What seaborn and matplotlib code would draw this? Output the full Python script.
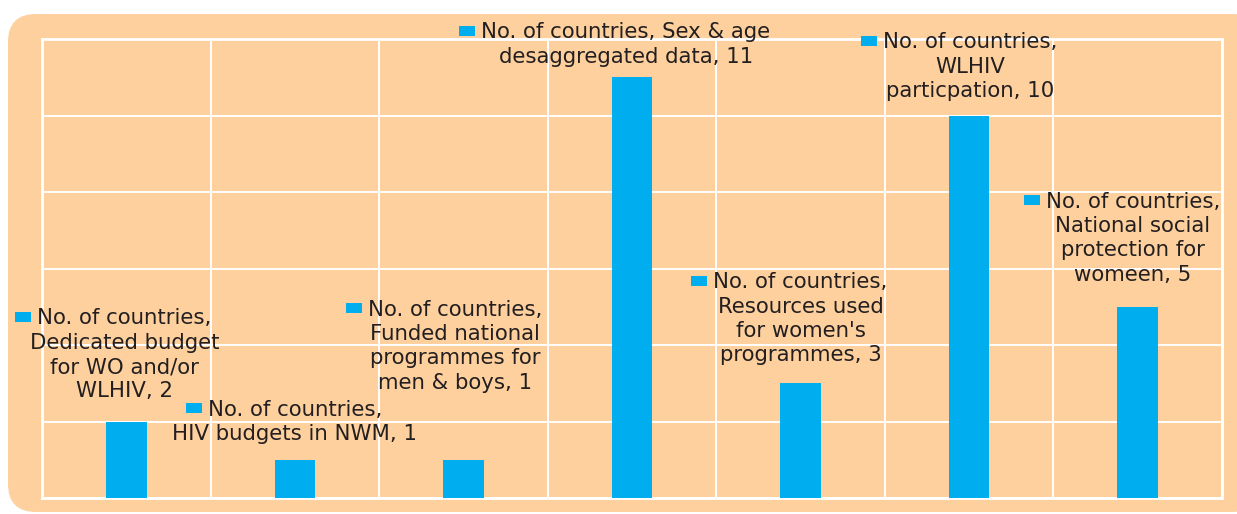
import matplotlib
matplotlib.use("Agg")
import matplotlib.pyplot as plt
from matplotlib.patches import FancyBboxPatch, Rectangle
from matplotlib.transforms import IdentityTransform
import seaborn as sns
import pandas as pd

categories = [
    "Dedicated budget for WO and/or WLHIV",
    "HIV budgets in NWM",
    "Funded national programmes for men & boys",
    "Sex & age desaggregated data",
    "Resources used for women's programmes",
    "WLHIV particpation",
    "National social protection for womeen",
]
values = [2, 1, 1, 11, 3, 10, 5]
labels = [
    "No. of countries,\nDedicated budget\nfor WO and/or\nWLHIV, 2",
    "No. of countries,\nHIV budgets in NWM, 1",
    "No. of countries,\nFunded national\nprogrammes for\nmen & boys, 1",
    "No. of countries, Sex & age\ndesaggregated data, 11",
    "No. of countries,\nResources used\nfor women's\nprogrammes, 3",
    "No. of countries,\nWLHIV\nparticpation, 10",
    "No. of countries,\nNational social\nprotection for\nwomeen, 5",
]
# label layout: offsets (pixels) of text block top above bar top, and horizontal shift
label_dy = [113, 60, 160, 55, 111, 83, 115]
label_dx = [-2, 0, -8, -6, 0, 1, -5]

BG = "#FDD09E"
BAR = "#00ADEE"
TXT = "#231F20"

sns.set_theme(style="white")
plt.rcParams["font.family"] = ["DejaVu Sans"]

fig = plt.figure(figsize=(12.37, 5.14), dpi=100)
fig.patch.set_facecolor("white")
bg = FancyBboxPatch((8 + 28, 2 + 28), 1260 - 8 - 56, 498 - 56,
                    boxstyle="round,pad=28,rounding_size=28",
                    transform=IdentityTransform(), facecolor=BG, edgecolor="none", zorder=-5)
fig.add_artist(bg)

ax = fig.add_axes([42 / 1237, 16 / 514, (1222 - 42) / 1237, (498 - 39) / 514])
ax.set_zorder(1)
ax.set_facecolor(BG)

df = pd.DataFrame({"cat": categories, "val": values})
sns.barplot(data=df, x="cat", y="val", color=BAR, saturation=1, width=0.24, ax=ax,
            zorder=3, edgecolor="none", linewidth=0)

ax.set_xlim(-0.5, len(values) - 0.5)
ax.set_ylim(0, 12)
ax.set_yticks(range(0, 13, 2))
ax.set_xticks([i - 0.5 for i in range(len(values) + 1)])
ax.set_xticklabels([])
ax.set_yticklabels([])
ax.tick_params(length=0)
ax.set_xlabel("")
ax.set_ylabel("")
ax.grid(True, color="white", lw=1.4, zorder=1)
ax.set_axisbelow(True)
for s in ax.spines.values():
    s.set_color("white")
    s.set_linewidth(2)
    s.set_visible(True)

fs = 15.3
ls = 1.27
for i, (lab, v) in enumerate(zip(labels, values)):
    ax.annotate(lab, xy=(i, v), xytext=(label_dx[i], label_dy[i]), textcoords="offset pixels",
                ha="center", va="top", multialignment="center", fontsize=fs, color=TXT,
                linespacing=ls, annotation_clip=False, zorder=5)

fig.canvas.draw()
r = fig.canvas.get_renderer()
for i, (lab, v) in enumerate(zip(labels, values)):
    first = lab.split("\n")[0]
    t = ax.annotate(first, xy=(i, v), xytext=(label_dx[i], label_dy[i]), textcoords="offset pixels",
                    ha="center", va="top", fontsize=fs, color=TXT, annotation_clip=False)
    bb = t.get_window_extent(r)
    t.remove()
    h = bb.height
    cy = bb.y1 - 0.42 * h
    rect = Rectangle((bb.x0 - 6 - 16, cy - 5), 16, 10, transform=IdentityTransform(),
                     facecolor=BAR, edgecolor="none", zorder=6)
    fig.add_artist(rect)

fig.savefig("out.png", dpi=100)
